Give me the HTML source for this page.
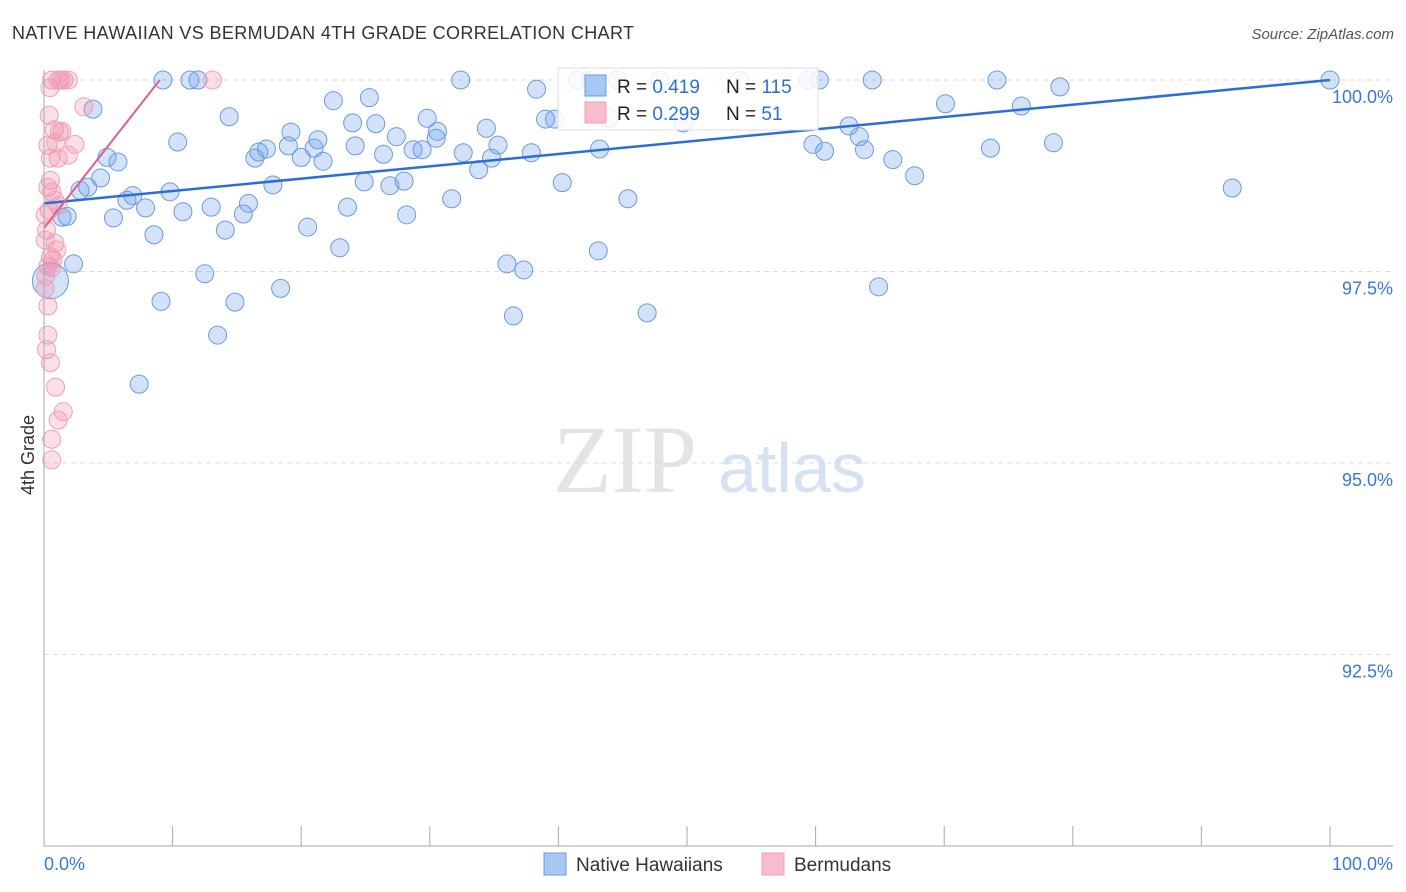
<!DOCTYPE html>
<html><head><meta charset="utf-8"><style>
body{margin:0;background:#fff;font-family:"Liberation Sans",sans-serif;}
#wrap{position:relative;width:1406px;height:892px;overflow:hidden;}
</style></head><body>
<div id="wrap">
<svg id="svg" width="1406" height="892" xmlns="http://www.w3.org/2000/svg">
<text x="12" y="39" font-size="18" fill="#333" textLength="622" lengthAdjust="spacing">NATIVE HAWAIIAN VS BERMUDAN 4TH GRADE CORRELATION CHART</text>
<text x="1394" y="39" font-size="15" fill="#555" font-style="italic" text-anchor="end">Source: ZipAtlas.com</text>
<text transform="translate(34,455) rotate(-90)" font-size="18" fill="#333" text-anchor="middle">4th Grade</text>
<text x="553" y="492" font-size="96" fill="#e4e4e4" font-family="Liberation Serif,serif">ZIP</text>
<text x="718" y="492" font-size="70" fill="#d4e2f4">atlas</text>
<g id="grid"></g><g id="pts"></g><g id="lines"></g><g id="axes"></g>
<g>
<rect x="558" y="68" width="260" height="62" fill="#fff" fill-opacity="0.85" stroke="#ddd"/>
<rect x="585" y="75" width="21" height="21" fill="#a8c8f4" stroke="#6a9be0"/>
<rect x="585" y="102" width="21" height="21" fill="#f8bccd" stroke="#f0a0b8"/>
<text x="617" y="93" font-size="19" fill="#222">R = <tspan fill="#2b6fd6">0.419</tspan></text>
<text x="726" y="93" font-size="19" fill="#222">N = <tspan fill="#2b6fd6">115</tspan></text>
<text x="617" y="120" font-size="19" fill="#222">R = <tspan fill="#2b6fd6">0.299</tspan></text>
<text x="726" y="120" font-size="19" fill="#222">N = <tspan fill="#2b6fd6">  51</tspan></text>
</g>
<g>
<rect x="544" y="853" width="22" height="22" fill="#a8c8f4" stroke="#6a9be0"/>
<text x="576" y="871" font-size="19" fill="#333">Native Hawaiians</text>
<rect x="762" y="853" width="22" height="22" fill="#f8bccd" stroke="#f0a0b8"/>
<text x="794" y="871" font-size="19" fill="#333">Bermudans</text>
</g>
</svg></div>
<script>
const yTicks=[100,97.5,95,92.5];
const yTickLabels=["100.0%","97.5%","95.0%","92.5%"];
const blueX=[9.25,11.35,11.97,32.4,41.5,44.6,47.9,54.1,59.4,60.3,64.4,74.1,79.0,100,3.81,14.4,22.5,25.3,38.3,70.1,76.0,10.4,19.2,24.0,25.8,27.4,29.8,30.6,34.4,39.0,39.7,49.7,62.6,63.4,4.9,5.75,16.4,16.7,17.3,19.0,20.0,21.0,21.3,21.7,24.2,26.4,28.7,29.4,30.5,32.6,34.8,35.3,37.9,43.2,59.8,60.7,63.8,66.0,73.6,78.5,67.7,33.8,2.8,3.4,4.4,6.9,6.45,9.8,17.8,24.9,26.9,28.0,40.3,45.4,31.7,92.4,1.4,1.8,5.4,7.9,10.8,13.0,15.5,15.9,23.6,28.2,14.1,8.55,20.5,23.0,43.1,2.3,36.0,37.3,12.5,18.4,64.9,9.1,14.85,36.5,46.9,13.5,7.4,42.5,42.8,43.9];
const blueY=[100,100,100,100,100,100,100,100,100,100,100,100,99.91,100,99.62,99.52,99.73,99.77,99.88,99.69,99.66,99.19,99.32,99.44,99.43,99.26,99.50,99.33,99.37,99.49,99.49,99.44,99.40,99.26,98.99,98.93,98.98,99.06,99.10,99.14,98.99,99.11,99.22,98.94,99.14,99.03,99.09,99.09,99.24,99.05,98.98,99.15,99.05,99.10,99.16,99.07,99.09,98.96,99.11,99.18,98.75,98.83,98.56,98.60,98.72,98.49,98.43,98.54,98.63,98.67,98.62,98.68,98.66,98.45,98.45,98.59,98.21,98.22,98.20,98.33,98.28,98.34,98.25,98.39,98.34,98.24,98.04,97.98,98.08,97.81,97.77,97.60,97.60,97.52,97.47,97.28,97.30,97.11,97.10,96.92,96.96,96.67,96.03,100,99.73,99.50];
const pinkX=[0.6,1.1,1.3,1.55,1.9,13.1,0.47,3.1,0.4,0.8,1.2,1.4,0.3,0.9,2.4,0.5,1.1,1.9,0.3,0.5,0.6,0.85,0.4,1.1,0.1,0.85,0.5,0.7,0.3,0.6,0.15,0.1,0.3,0.3,0.2,0.5,0.9,1.5,1.1,0.6,0.6,0.2,1.0,0.1];
const pinkY=[100,100,100,100,100,100,99.9,99.65,99.54,99.35,99.32,99.33,99.15,99.18,99.16,98.98,98.98,99.02,98.60,98.69,98.54,98.43,98.30,98.36,98.24,97.87,97.69,97.65,97.57,97.55,97.44,97.28,97.05,96.67,96.48,96.31,95.99,95.67,95.56,95.31,95.04,98.04,97.78,97.91];
const blueLine=[[0,98.39],[100,100]];
const pinkLine=[[0,98.07],[9.0,100]];
const NS="http://www.w3.org/2000/svg";
const sx=v=>44+v*12.86, sy=v=>80+(100-v)*76.6;
function mk(tag,attrs,parent){const e=document.createElementNS(NS,tag);for(const k in attrs)e.setAttribute(k,attrs[k]);parent.appendChild(e);return e;}
const grid=document.getElementById('grid'),pts=document.getElementById('pts'),lines=document.getElementById('lines'),axes=document.getElementById('axes');
yTicks.forEach((t,i)=>{
 const l=mk('line',{x1:44,x2:1393,y1:sy(t),y2:sy(t),stroke:'#ddd','stroke-dasharray':'5,4'},grid);
 
 
 const tx=mk('text',{x:1393,y:sy(t)+23,'font-size':18,fill:'#3a78d8','text-anchor':'end'},axes);
 tx.textContent=yTickLabels[i];
 
 
});
blueX.forEach((x,i)=>{
 const c=mk('circle',{cx:sx(x),cy:sy(blueY[i]),r:9,fill:'rgba(110,160,235,0.3)',stroke:'#6a9be0','stroke-width':1},pts);
 
 
});
const big=mk('circle',{cx:sx(0.5),cy:sy(97.38),r:18,fill:'rgba(110,160,235,0.3)',stroke:'#6a9be0'},pts);


pinkX.forEach((x,i)=>{
 const c=mk('circle',{cx:sx(x),cy:sy(pinkY[i]),r:9,fill:'rgba(240,140,170,0.28)',stroke:'#f0a0b8','stroke-width':1},pts);
 
 
});
const bl=mk('line',{x1:sx(blueLine[0][0]),y1:sy(blueLine[0][1]),x2:sx(blueLine[1][0]),y2:sy(blueLine[1][1]),stroke:'#2b6fd6','stroke-width':2.5},lines);


const pl=mk('line',{x1:sx(pinkLine[0][0]),y1:sy(pinkLine[0][1]),x2:sx(pinkLine[1][0]),y2:sy(pinkLine[1][1]),stroke:'#e0608a','stroke-width':2},lines);


const ya=mk('line',{x1:44,x2:44,y1:70,y2:846,stroke:'#aaa'},axes);


const xa=mk('line',{x1:44,x2:1393,y1:846,y2:846,stroke:'#aaa'},axes);


for(let i=0;i<=10;i++){
 const t=mk('line',{x1:sx(i*10),x2:sx(i*10),y1:826,y2:846,stroke:'#aaa'},axes);
 
 
}
const xl0=mk('text',{x:44,y:870,'font-size':18,fill:'#3a78d8'},axes);xl0.textContent='0.0%';


const xl1=mk('text',{x:1393,y:870,'font-size':18,fill:'#3a78d8','text-anchor':'end'},axes);xl1.textContent='100.0%';


</script>
</body></html>
